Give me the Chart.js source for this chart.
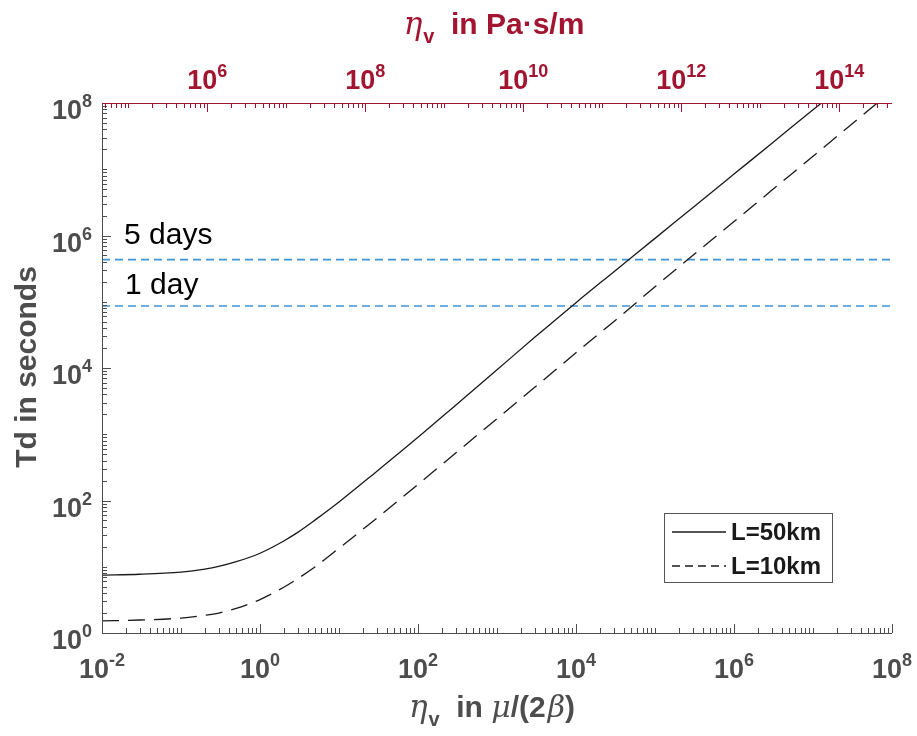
<!DOCTYPE html>
<html>
<head>
<meta charset="utf-8">
<script src="https://cdn.jsdelivr.net/npm/chart.js@4.4.1/dist/chart.umd.min.js"></script>
<style>
  html, body { margin: 0; padding: 0; background: #fff; }
</style>
</head>
<body>
<canvas id="myChart" width="917" height="736"></canvas>
<script>
// values
const etaL50 = [0.01, 0.03, 0.1, 0.2, 0.3, 0.5, 1, 2, 3, 5, 10, 30, 100, 300, 1000, 3000, 1e4, 3e4, 1e5, 3e5, 1e6, 3e6, 1e7, 1.28e7];
const tdL50 = [7.5, 7.7, 8.3, 9.2, 10.1, 11.9, 16, 24.5, 33, 51, 95, 275, 900, 2750, 9400, 29000, 97000, 2.82e5, 9.05e5, 2.63e6, 8.45e6, 2.45e7, 7.9e7, 1e8];
const etaL10 = [0.01, 0.03, 0.1, 0.2, 0.3, 0.5, 1, 2, 3, 5, 10, 30, 100, 300, 1000, 3000, 1e4, 3e4, 1e5, 3e5, 1e6, 3e6, 1e7, 3e7, 6.5e7];
const tdL10 = [1.52, 1.57, 1.68, 1.85, 2.0, 2.35, 3.2, 4.9, 6.6, 10, 19, 54, 175, 520, 1720, 5100, 17000, 50000, 1.68e5, 5e5, 1.62e6, 4.8e6, 1.57e7, 4.65e7, 1e8];
const refLevels = [432000, 86400];
const refLabels = ['5 days', '1 day'];
const seriesNames = ['L=50km', 'L=10km'];
const xRange = [1e-2, 1e8];
const yRange = [1, 1e8];
const topRange = [4.6416e4, 4.6416e14];
const bottomLabelExps = [-2, 0, 2, 4, 6, 8];
const leftLabelExps = [0, 2, 4, 6, 8];
const topLabelExps = [6, 8, 10, 12, 14];

const GRAY = '#4d4d4d';
const RED = '#a2142f';
const BLUE = '#3f95d6';
const SANS = '"Liberation Sans", Arial, sans-serif';
const SERIF = '"DejaVu Serif", "Liberation Serif", serif';

const pts = (xs, ys) => xs.map((x, i) => ({ x: x, y: ys[i] }));

function logTicks(min, max) {
    const out = [];
    for (let d = Math.floor(Math.log10(min)); d <= Math.ceil(Math.log10(max)); d++) {
        for (let k = 1; k <= 9; k++) {
            const v = k * Math.pow(10, d);
            if (v >= min * 0.9999 && v <= max * 1.0001) out.push({ v: v, k: k, d: d });
        }
    }
    return out;
}

function powLabel(c, exp, x, y, align, color) {
    c.fillStyle = color;
    c.textBaseline = 'alphabetic';
    c.textAlign = 'left';
    c.font = 'bold 27px ' + SANS;
    const w1 = c.measureText('10').width;
    c.font = 'bold 18px ' + SANS;
    const e = String(exp);
    const w2 = c.measureText(e).width;
    const total = w1 + w2;
    let x0 = align === 'right' ? x - total : x - total / 2;
    c.font = 'bold 27px ' + SANS;
    c.fillText('10', x0, y);
    c.font = 'bold 18px ' + SANS;
    c.fillText(e, x0 + w1, y - 12);
}

// draws a run of [text, font, dy, gap] pieces centred on cx
function richText(c, parts, cx, y, color) {
    c.fillStyle = color;
    c.textAlign = 'left';
    c.textBaseline = 'alphabetic';
    let total = 0;
    parts.forEach(p => { c.font = p[1]; total += c.measureText(p[0]).width + (p[3] || 0); });
    let x = cx - total / 2;
    parts.forEach(p => {
        c.font = p[1];
        c.fillText(p[0], x, y + (p[2] || 0));
        x += c.measureText(p[0]).width + (p[3] || 0);
    });
}

const axesPlugin = {
    id: 'matlabAxes',
    afterDraw(chart) {
        const c = chart.ctx;
        const a = chart.chartArea;
        const sx = chart.scales.x, sy = chart.scales.y, st = chart.scales.x2;
        c.save();

        // reference line labels
        c.fillStyle = '#000';
        c.font = '30px ' + SANS;
        c.textAlign = 'left';
        c.textBaseline = 'alphabetic';
        c.fillText(refLabels[0], 124, 244);
        c.fillText(refLabels[1], 125, 294);

        // bottom and left axes
        c.strokeStyle = GRAY;
        c.lineWidth = 1;
        c.beginPath();
        c.moveTo(a.left, a.bottom + 0.5); c.lineTo(a.right, a.bottom + 0.5);
        c.moveTo(a.left + 0.5, a.top); c.lineTo(a.left + 0.5, a.bottom);
        logTicks(xRange[0], xRange[1]).forEach(t => {
            const px = Math.round(sx.getPixelForValue(t.v)) + 0.5;
            const len = (t.k === 1 && t.d % 2 === 0) ? 9 : 5;
            c.moveTo(px, a.bottom); c.lineTo(px, a.bottom - len);
        });
        logTicks(yRange[0], yRange[1]).forEach(t => {
            const py = Math.round(sy.getPixelForValue(t.v)) + 0.5;
            const len = (t.k === 1 && t.d % 2 === 0) ? 9 : 5;
            c.moveTo(a.left, py); c.lineTo(a.left + len, py);
        });
        c.stroke();

        // top axis (red)
        c.strokeStyle = RED;
        c.beginPath();
        c.moveTo(a.left, a.top + 0.5); c.lineTo(a.right, a.top + 0.5);
        logTicks(topRange[0], topRange[1]).forEach(t => {
            const px = Math.round(st.getPixelForValue(t.v)) + 0.5;
            const len = (t.k === 1 && t.d % 2 === 0) ? 9 : 5;
            c.moveTo(px, a.top); c.lineTo(px, a.top + len);
        });
        c.stroke();

        // tick labels
        bottomLabelExps.forEach(e => powLabel(c, e < 0 ? '-' + (-e) : e, sx.getPixelForValue(Math.pow(10, e)), a.bottom + 45, 'center', GRAY));
        leftLabelExps.forEach(e => powLabel(c, e, a.left - 10, sy.getPixelForValue(Math.pow(10, e)) + 16, 'right', GRAY));
        topLabelExps.forEach(e => powLabel(c, e, st.getPixelForValue(Math.pow(10, e)), 89, 'center', RED));

        // axis titles
        const eta = ['\u03b7', 'italic 31px ' + SERIF, 0, 1];
        const sub = ['v', 'bold 20px ' + SANS, 9, 0];
        richText(c, [eta, sub, ['  in Pa\u00b7s/m', 'bold 30px ' + SANS]], 494, 34, RED);
        richText(c, [eta, sub, ['  in ', 'bold 30px ' + SANS], ['\u03bc', 'italic 30px ' + SERIF],
            ['/(2', 'bold 30px ' + SANS, 0, 2], ['\u03b2', 'italic 30px ' + SERIF], [')', 'bold 30px ' + SANS]], 492, 717, GRAY);

        c.save();
        c.translate(28, 367);
        c.rotate(-Math.PI / 2);
        c.fillStyle = GRAY;
        c.font = 'bold 30px ' + SANS;
        c.textAlign = 'center';
        c.textBaseline = 'middle';
        c.fillText('Td in seconds', 0, 0);
        c.restore();

        // legend
        c.fillStyle = '#fff';
        c.fillRect(664, 513, 168, 69);
        c.strokeStyle = '#555';
        c.lineWidth = 1;
        c.strokeRect(664.5, 513.5, 168, 69);
        c.strokeStyle = '#1a1a1a';
        c.lineWidth = 1.3;
        c.beginPath(); c.moveTo(672, 532); c.lineTo(726, 532); c.stroke();
        c.setLineDash([8, 5]);
        c.beginPath(); c.moveTo(672, 566); c.lineTo(726, 566); c.stroke();
        c.setLineDash([]);
        c.fillStyle = '#1a1a1a';
        c.font = 'bold 24px ' + SANS;
        c.textAlign = 'left';
        c.textBaseline = 'middle';
        c.fillText(seriesNames[0], 731, 533);
        c.fillText(seriesNames[1], 731, 567);

        c.restore();
    }
};

const ctx = 'myChart';

const myChart = new Chart(ctx, {
    type: 'line',
    data: {
        datasets: [{
            label: seriesNames[0],
            data: pts(etaL50, tdL50),
            borderColor: '#1a1a1a',
            borderWidth: 1.3,
            pointRadius: 0,
            cubicInterpolationMode: 'monotone'
        }, {
            label: seriesNames[1],
            data: pts(etaL10, tdL10),
            borderColor: '#1a1a1a',
            borderWidth: 1.3,
            borderDash: [17, 9],
            pointRadius: 0,
            cubicInterpolationMode: 'monotone'
        }, {
            label: refLabels[0],
            data: [{ x: xRange[0], y: refLevels[0] }, { x: xRange[1], y: refLevels[0] }],
            borderColor: BLUE,
            borderWidth: 1.6,
            borderDash: [8, 5],
            pointRadius: 0
        }, {
            label: refLabels[1],
            data: [{ x: xRange[0], y: refLevels[1] }, { x: xRange[1], y: refLevels[1] }],
            borderColor: BLUE,
            borderWidth: 1.6,
            borderDash: [8, 5],
            pointRadius: 0
        }]
    },
    options: {
        responsive: false,
        animation: false,
        layout: { padding: { left: 0, right: 25, top: 0, bottom: 0 } },
        scales: {
            x: {
                type: 'logarithmic', position: 'bottom',
                min: xRange[0], max: xRange[1],
                ticks: { display: false }, grid: { display: false }, border: { display: false },
                afterFit: s => { s.height = 103; }
            },
            x2: {
                type: 'logarithmic', position: 'top', axis: 'x',
                min: topRange[0], max: topRange[1],
                ticks: { display: false }, grid: { display: false }, border: { display: false },
                afterFit: s => { s.height = 103; }
            },
            y: {
                type: 'logarithmic', position: 'left',
                min: yRange[0], max: yRange[1],
                ticks: { display: false }, grid: { display: false }, border: { display: false },
                afterFit: s => { s.width = 102; }
            }
        },
        plugins: {
            legend: { display: false },
            tooltip: { enabled: false }
        }
    },
    plugins: [axesPlugin]
});
</script>
</body>
</html>
